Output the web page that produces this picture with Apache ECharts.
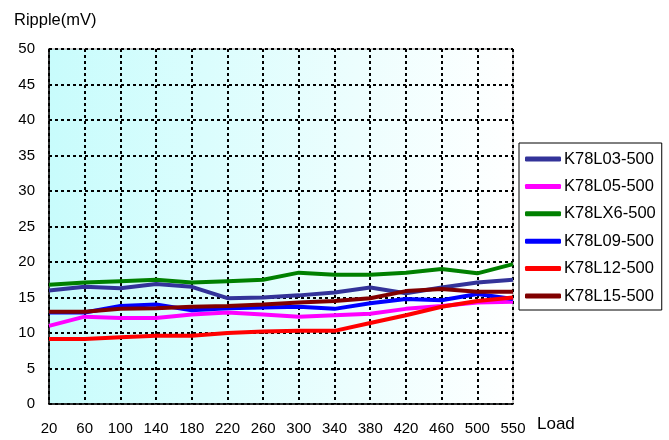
<!DOCTYPE html>
<html><head><meta charset="utf-8">
<script src="https://cdn.jsdelivr.net/npm/echarts@6/dist/echarts.min.js"></script>
<style>html,body{margin:0;padding:0;background:#fff}#c{width:669px;height:440px}</style>
</head><body><div id="c"></div>
<script>
var categories = ['20','60','100','140','180','220','260','300','340','380','420','460','500','550'];
var seriesNames = ['K78L03-500','K78L05-500','K78LX6-500','K78L09-500','K78L12-500','K78L15-500'];
var L03 = [16.0,16.5,16.3,16.9,16.5,14.9,15.0,15.3,15.7,16.4,15.6,16.4,17.1,17.5];
var L05 = [11.0,12.3,12.1,12.1,12.6,12.9,12.6,12.3,12.5,12.7,13.4,13.8,14.3,14.4];
var LX6 = [16.8,17.1,17.3,17.5,17.1,17.3,17.5,18.5,18.2,18.2,18.5,19.0,18.4,19.7];
var L09 = [12.9,12.9,13.8,14.0,13.2,13.5,13.6,13.7,13.4,14.2,14.8,14.6,15.5,14.8];
var L12 = [9.15,9.15,9.4,9.6,9.6,10.0,10.2,10.3,10.3,11.4,12.5,13.7,14.5,15.0];
var L15 = [13.0,13.0,13.4,13.5,13.7,13.8,14.0,14.3,14.5,14.9,15.9,16.2,15.8,15.8];
var colors = ['#333399','#ff00ff','#008000','#0000ff','#ff0000','#800000'];
var allData = [L03,L05,LX6,L09,L12,L15];

var chart = echarts.init(document.getElementById('c'), null, {renderer:'canvas'});
var font = 'Liberation Sans, Arial, sans-serif';
var dash = {color:'#000', width:2, type:[3,3]};
chart.setOption({
  animation:false,
  textStyle:{fontFamily:font},
  grid:{left:49, right:156, top:49, bottom:36, show:true, borderColor:'#999', borderWidth:1,
    backgroundColor:new echarts.graphic.LinearGradient(0,0,1,0,[{offset:0,color:'#c8fcfc'},{offset:1,color:'#ffffff'}])},
  legend:{orient:'vertical', left:519, top:143, data:seriesNames, icon:'roundRect', itemWidth:36, itemHeight:5,
    itemGap:9.4, padding:[7,6,5,6], borderColor:'#000', borderWidth:1, backgroundColor:'#fff',
    textStyle:{fontFamily:font, fontSize:16.5, color:'#000', lineHeight:18, padding:[0,0,0,-2]}},
  xAxis:{type:'category', data:categories, boundaryGap:false,
    name:'Load', nameLocation:'end', nameGap:24,
    nameTextStyle:{fontFamily:font, fontSize:17, color:'#000', verticalAlign:'top', padding:[12,0,0,0]},
    axisLine:{lineStyle:{color:'#000', width:1.5}}, axisTick:{show:false},
    axisLabel:{color:'#000', fontSize:15, fontFamily:font, margin:17},
    splitLine:{show:true, lineStyle:dash}},
  yAxis:{type:'value', min:0, max:50, interval:5,
    name:'Ripple(mV)', nameLocation:'end', nameGap:29,
    nameTextStyle:{fontFamily:font, fontSize:16.5, color:'#000', align:'left', verticalAlign:'middle', padding:[0,0,0,-35]},
    axisLine:{show:true, lineStyle:{color:'#000', width:1.5}}, axisTick:{show:false},
    axisLabel:{color:'#000', fontSize:15, fontFamily:font, margin:14},
    splitLine:{show:true, lineStyle:dash}},
  series: seriesNames.map(function(n,i){
    return {name:n, type:'line', data:allData[i], symbol:'none', smooth:false,
      lineStyle:{color:colors[i], width:4}, itemStyle:{color:colors[i]}};
  })
});
</script></body></html>
